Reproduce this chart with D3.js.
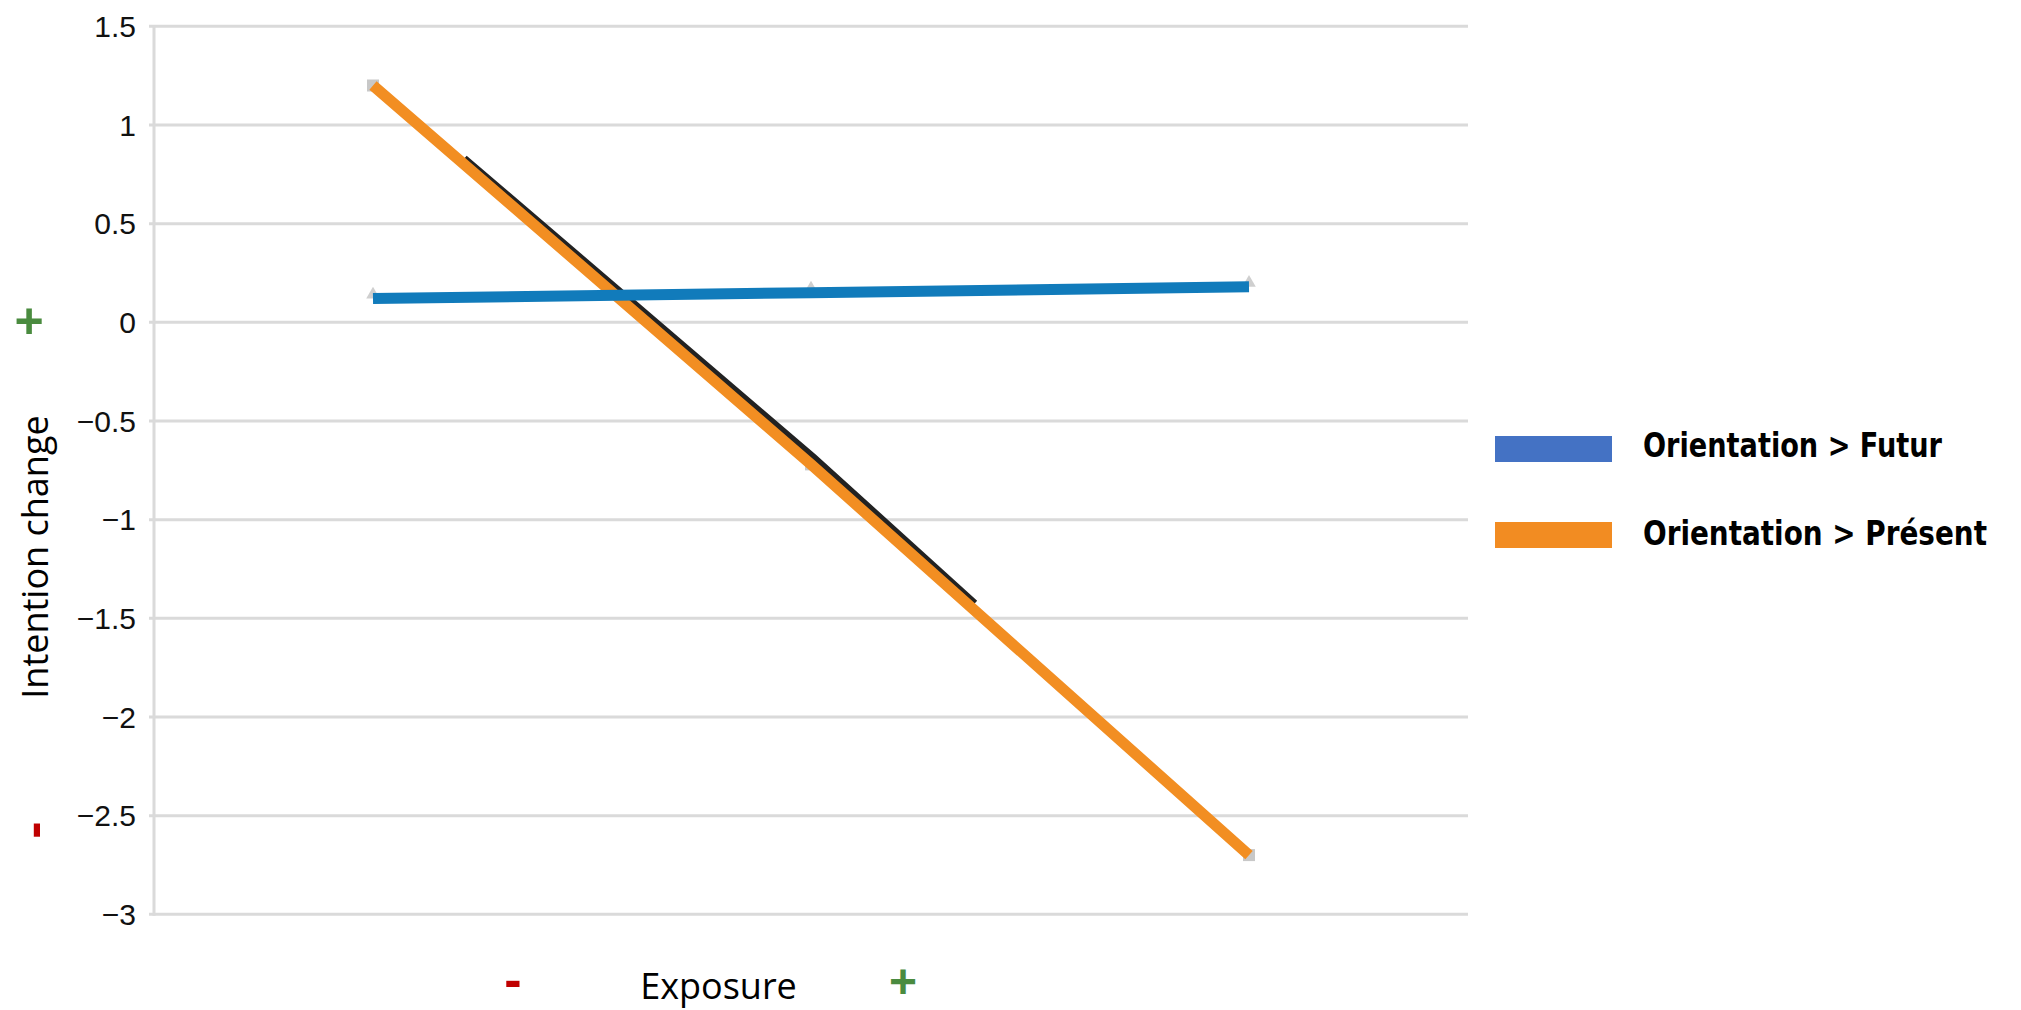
<!DOCTYPE html>
<html><head><meta charset="utf-8">
<script src="https://cdnjs.cloudflare.com/ajax/libs/d3/7.8.5/d3.min.js"></script>
<style>html,body{margin:0;padding:0;background:#fff;overflow:hidden}</style>
</head><body><svg id="c" width="2021" height="1010"></svg>
<script>
const categories = ["Exposure low", "Exposure medium", "Exposure high"];
const futurValues = [0.12, 0.15, 0.18];
const presentValues = [1.2, -0.72, -2.7];
const presentShadowValues = [1.2, -0.7, -2.71];
const yTickValues = [1.5, 1, 0.5, 0, -0.5, -1, -1.5, -2, -2.5, -3];
const seriesNames = ["Orientation > Futur", "Orientation >  Présent"];

(function () {
const svg = d3.select("#c");
const pLeft = 154, pRight = 1468, pTop = 26.3, pBottom = 914.3;
const x = d3.scaleBand().domain(categories).range([pLeft, pRight]);
const y = d3.scaleLinear().domain([-3, 1.5]).range([pBottom, pTop]);
const cx = d => x(d) + x.bandwidth() / 2;

// gridlines
svg.append("g").selectAll("line").data(yTickValues).join("line")
  .attr("x1", pLeft - 5).attr("x2", pRight)
  .attr("y1", d => y(d)).attr("y2", d => y(d))
  .attr("stroke", "#dadada").attr("stroke-width", 3);
svg.append("line").attr("x1", pLeft).attr("x2", pLeft).attr("y1", pTop).attr("y2", pBottom + 1.5)
  .attr("stroke", "#dadada").attr("stroke-width", 3);

// y tick labels
const fmt = v => (v < 0 ? "\u2212" : "") + Math.abs(v);
svg.append("g").selectAll("text").data(yTickValues).join("text")
  .attr("x", 136).attr("y", d => y(d)).attr("dy", "0.36em")
  .attr("text-anchor", "end")
  .style("font-family", "'Liberation Sans', Arial, sans-serif").style("font-size", "30px")
  .attr("fill", "#111").text(fmt);

const line = d3.line().x((d, i) => cx(categories[i])).y(d => y(d));

// markers
const mk = svg.append("g");
mk.selectAll("rect").data(presentValues).join("rect")
  .attr("x", (d, i) => cx(categories[i]) - 6).attr("y", d => y(d) - 6)
  .attr("width", 12).attr("height", 12).attr("fill", "#c8c8c8");
mk.selectAll("path").data(futurValues).join("path")
  .attr("d", d3.symbol(d3.symbolTriangle, 80))
  .attr("transform", (d, i) => `translate(${cx(categories[i])},${y(d) - 4})`)
  .attr("fill", "#cfcfcf");

// dark shadow line peeking out behind orange
const sh = svg.append("path").datum(presentShadowValues).attr("d", line)
  .attr("fill", "none").attr("stroke", "#222").attr("stroke-width", 11)
  .attr("transform", "translate(1.4,-1.6)");
const L = sh.node().getTotalLength();
sh.attr("stroke-dasharray", `0,${L*0.1},${L*0.58},${L}`);

svg.append("path").datum(presentValues).attr("d", line)
  .attr("fill", "none").attr("stroke", "#f28e22").attr("stroke-width", 11);
svg.append("path").datum(futurValues).attr("d", line)
  .attr("fill", "none").attr("stroke", "#117bbb").attr("stroke-width", 11);

// legend
const legColors = ["#4472c4", "#f28c22"];
const legY = [449, 535];
const legBase = [457, 545];
const lg = svg.append("g");
seriesNames.forEach((n, i) => {
  lg.append("rect").attr("x", 1495).attr("y", legY[i] - 13).attr("width", 117).attr("height", 26)
    .attr("fill", legColors[i]);
  lg.append("text").attr("x", 1643).attr("y", legBase[i])
    .style("font-family", "'DejaVu Sans', sans-serif").style("font-weight", "bold")
    .style("font-stretch", "condensed").style("font-size", "33px")
    .attr("textLength", i === 0 ? 299 : 344).attr("lengthAdjust", "spacingAndGlyphs")
    .attr("fill", "#000").text(n);
});

// axis titles
svg.append("text").attr("transform", "translate(48,557) rotate(-90)")
  .attr("text-anchor", "middle")
  .style("font-family", "'Open Sans', sans-serif").style("font-size", "36px")
  .attr("fill", "#000").text("Intention change");
svg.append("text").attr("x", 718.5).attr("y", 999).attr("text-anchor", "middle")
  .style("font-family", "'Open Sans', sans-serif").style("font-size", "36px")
  .attr("fill", "#000").text("Exposure");

// +/- markers
const signFont = "'Liberation Sans', sans-serif";
svg.append("text").attr("x", 29).attr("y", 320).attr("dy", "0.35em").attr("text-anchor", "middle")
  .style("font-family", signFont).style("font-weight", "bold").style("font-size", "50px")
  .attr("fill", "#4a8b3f").text("+");
svg.append("text").attr("x", 903).attr("y", 998).attr("text-anchor", "middle")
  .style("font-family", signFont).style("font-weight", "bold").style("font-size", "48px")
  .attr("fill", "#4a8b3f").text("+");
svg.append("text").attr("transform", "translate(32,830) rotate(-90)").attr("dy", "0.35em").attr("text-anchor", "middle")
  .style("font-family", signFont).style("font-weight", "bold").style("font-size", "52px")
  .attr("fill", "#c00000").text("-");
svg.append("text").attr("x", 513).attr("y", 997).attr("text-anchor", "middle")
  .style("font-family", signFont).style("font-weight", "bold").style("font-size", "52px")
  .attr("fill", "#c00000").text("-");
})();
</script></body></html>
